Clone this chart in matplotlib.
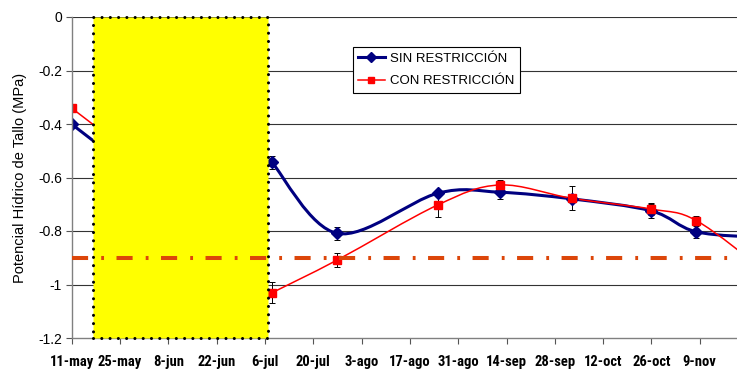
import matplotlib
matplotlib.use("Agg")
import matplotlib.pyplot as plt
import numpy as np
import pandas as pd
from matplotlib.path import Path
from matplotlib.patches import PathPatch, Rectangle
from matplotlib.lines import Line2D

# Sampling dates and stem water potential (MPa); NaN = no measurement
fechas = ["2004-05-11", "2004-05-25", "2004-06-22", "2004-07-08", "2004-07-27",
          "2004-08-25", "2004-09-12", "2004-10-03", "2004-10-26", "2004-11-08",
          "2004-11-28"]
sin_restriccion = [-0.401, -0.54, np.nan, -0.543, -0.809, -0.659, -0.655, -0.680,
                   -0.725, -0.803, -0.825]
sin_err = [0.0, 0.0, 0.0, 0.025, 0.023, 0.010, 0.027, 0.010, 0.025, 0.022, 0.0]
con_restriccion = [-0.341, -0.479, np.nan, -1.031, -0.908, -0.703, -0.628, -0.678,
                   -0.718, -0.761, -0.95]
con_err = [0.0, 0.0, 0.0, 0.040, 0.026, 0.043, 0.020, 0.045, 0.024, 0.018, 0.0]

umbral = -0.9
periodo_sombreado = ["2004-05-17", "2004-07-07"]

tick_labels = ["11-may", "25-may", "8-jun", "22-jun", "6-jul", "20-jul", "3-ago",
               "17-ago", "31-ago", "14-sep", "28-sep", "12-oct", "26-oct", "9-nov"]
inicio = pd.Timestamp("2004-05-11")
dias = np.array([(pd.Timestamp(f) - inicio).days for f in fechas], dtype=float)
caja = [(pd.Timestamp(f) - inicio).days for f in periodo_sombreado]
tick_pos = np.arange(len(tick_labels)) * 14


def smooth_path(x, y):
    """Cubic Bezier path through each run of valid points (smoothed line)."""
    x = np.asarray(x, float)
    y = np.asarray(y, float)
    ok = ~np.isnan(y)
    verts, codes = [], []
    runs, cur = [], []
    for i in range(len(x)):
        if ok[i]:
            cur.append(i)
        elif cur:
            runs.append(cur)
            cur = []
    if cur:
        runs.append(cur)
    for run in runs:
        pts = np.column_stack([x[run], y[run]])
        n = len(pts)
        verts.append(pts[0])
        codes.append(Path.MOVETO)
        for i in range(n - 1):
            p_prev = pts[i - 1] if i > 0 else pts[i]
            p_next2 = pts[i + 2] if i + 2 < n else pts[i + 1]
            c1 = pts[i] + (pts[i + 1] - p_prev) / 6.0
            c2 = pts[i + 1] - (p_next2 - pts[i]) / 6.0
            verts += [c1, c2, pts[i + 1]]
            codes += [Path.CURVE4] * 3
    return Path(verts, codes)


azul = "#000080"
rojo = "#FF0000"

fig = plt.figure(figsize=(7.37, 3.70), dpi=100)
ax = fig.add_axes([71.8 / 737, 1 - 338 / 370, 1 - 71.8 / 737, 321 / 370])
ax.set_xlim(0, 192.8)
ax.set_ylim(-1.2, 0)

for yv in [0, -0.2, -0.4, -0.6, -0.8, -1.0]:
    ax.axhline(yv, color="#333333", lw=0.8, zorder=1)

# smoothed series lines
ax.add_patch(PathPatch(smooth_path(dias, sin_restriccion), facecolor="none",
                       edgecolor=azul, lw=2.2, zorder=2, capstyle="round"))
ax.add_patch(PathPatch(smooth_path(dias, con_restriccion), facecolor="none",
                       edgecolor=rojo, lw=1.1, zorder=2.1))

con_barras = np.array(sin_err) > 0
ax.errorbar(dias[con_barras], np.array(sin_restriccion)[con_barras],
            yerr=np.array(sin_err)[con_barras], fmt="none", ecolor="black",
            elinewidth=0.7, capsize=2.2, capthick=0.7, zorder=2.2)
con_barras = np.array(con_err) > 0
ax.errorbar(dias[con_barras], np.array(con_restriccion)[con_barras],
            yerr=np.array(con_err)[con_barras], fmt="none", ecolor="black",
            elinewidth=0.7, capsize=2.2, capthick=0.7, zorder=2.2)
ax.plot(dias, sin_restriccion, ls="none", marker="D", ms=6.5, color=azul, zorder=2.3)
ax.plot(dias, con_restriccion, ls="none", marker="s", ms=6, color=rojo, zorder=2.4)

# shaded period with dotted outline
ax.add_patch(Rectangle((caja[0], -1.2), caja[1] - caja[0], 1.2, facecolor="#FFFF00",
                       edgecolor="black", lw=2.2, linestyle=(0, (0.01, 2.7)),
                       capstyle="round", zorder=3, clip_on=False))

# threshold line
ax.axhline(umbral, color="#DC460A", lw=2.9, linestyle=(0, (4, 3.25, 0.7, 3.1)),
           dash_capstyle="butt", zorder=4)

ax.set_yticks([0, -0.2, -0.4, -0.6, -0.8, -1.0, -1.2])
ax.set_yticklabels(["0", "-0.2", "-0.4", "-0.6", "-0.8", "-1", "-1.2"],
                   fontsize=10, family=["Liberation Sans", "DejaVu Sans"])
ax.set_xticks(tick_pos)
ax.set_xticklabels(tick_labels, fontsize=10.5, fontweight="bold",
                   family=["Roboto Condensed", "Liberation Sans Narrow",
                           "DejaVu Sans Condensed", "Liberation Sans"])
ax.tick_params(axis="both", direction="out", length=4, width=0.8, color="#555555")
ax.tick_params(axis="x", pad=8)
ax.tick_params(axis="y", pad=3)

for s in ["top", "right"]:
    ax.spines[s].set_visible(False)
for s in ["left", "bottom"]:
    ax.spines[s].set_color("#808080")
    ax.spines[s].set_linewidth(1.0)

ax.set_ylabel("Potencial Hídrico de Tallo (MPa)", fontsize=10.5,
              family=["Liberation Sans", "DejaVu Sans"], labelpad=8)

handles = [Line2D([], [], color=azul, lw=2.2, marker="D", ms=5),
           Line2D([], [], color=rojo, lw=1.1, marker="s", ms=5)]
leg = ax.legend(handles, ["SIN RESTRICCIÓN", "CON RESTRICCIÓN"], loc="upper left",
                bbox_to_anchor=((353 - 71.8) / 665.2, (338 - 47) / 321), borderaxespad=0,
                frameon=True, fancybox=False, framealpha=1, edgecolor="black",
                prop={"family": ["Liberation Sans", "DejaVu Sans"], "size": 9.5},
                handlelength=2.0, handletextpad=0.4, borderpad=0.4, labelspacing=0.8)
leg.get_frame().set_linewidth(0.8)
leg.set_zorder(5)

fig.savefig("out.png", dpi=100)
